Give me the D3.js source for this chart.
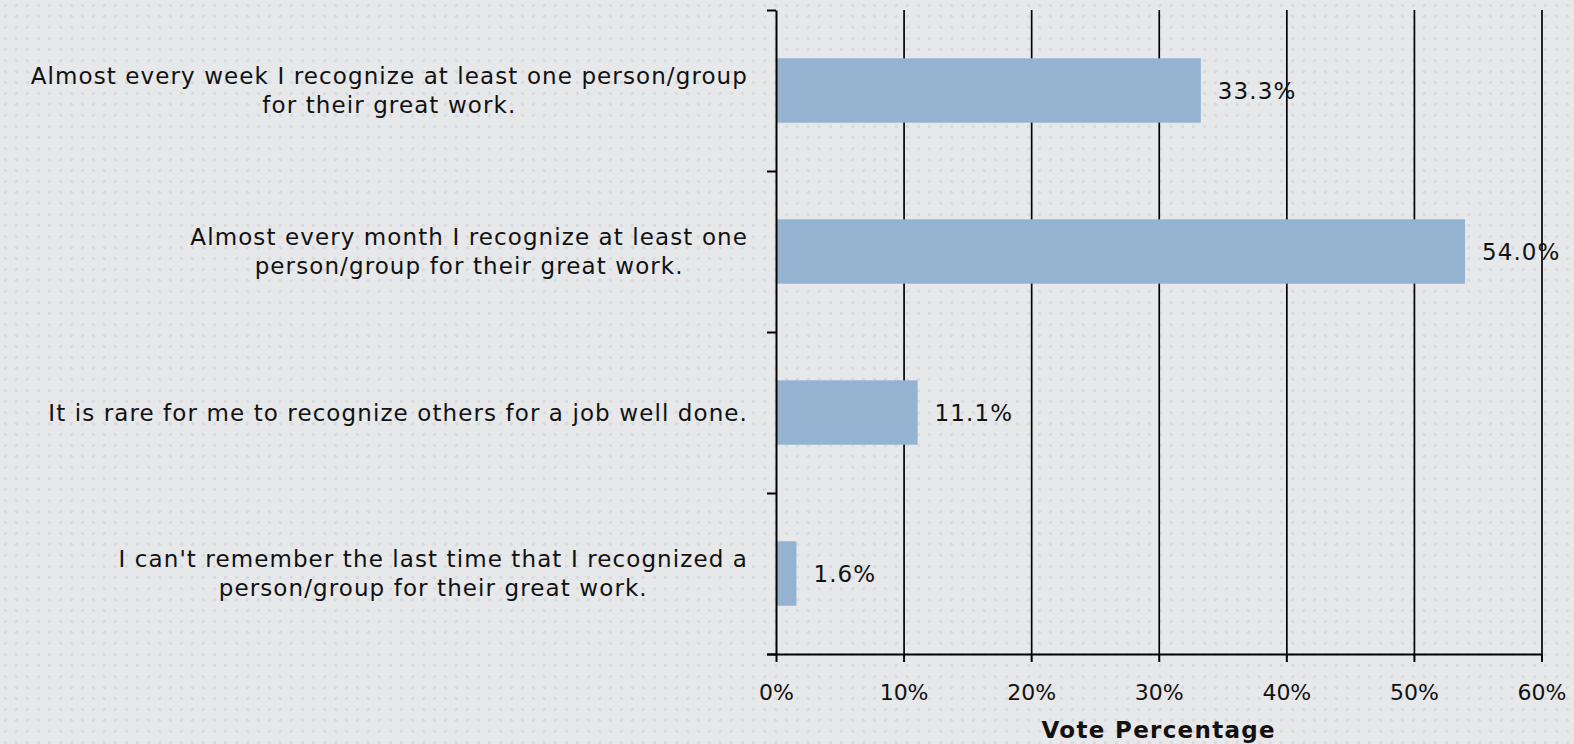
<!DOCTYPE html>
<html>
<head>
<meta charset="utf-8">
<script src="https://cdn.jsdelivr.net/npm/d3@7"></script>
<style>
  body { margin: 0; background: #e7e8ea; }
  svg { display: block; }
  .lbl { font-family: "Century Gothic", "URW Gothic", "DejaVu Sans", sans-serif; fill: #111; }
</style>
</head>
<body>
<div id="chart"></div>
<script>
"use strict";
// answers, one entry per line of text
const categories = [
    ["Almost every week I recognize at least one person/group", "for their great work."],
    ["Almost every month I recognize at least one", "person/group for their great work."],
    ["It is rare for me to recognize others for a job well done."],
    ["I can't remember the last time that I recognized a", "person/group for their great work."]
];
const votes = [33.3, 54.0, 11.1, 1.6];
const xTicks = [0, 10, 20, 30, 40, 50, 60];
const xTitle = "Vote Percentage";

const width = 1574, height = 744;
const plot = { left: 776, right: 1541.5, top: 10, bottom: 654 };
const fontSize = 23,
    spacing = "1.1px";

const svg = d3.select("#chart").append("svg")
    .attr("width", width)
    .attr("height", height);

// dotted backdrop
const pat = svg.append("defs").append("pattern")
    .attr("id", "dots")
    .attr("width", 11).attr("height", 11)
    .attr("patternUnits", "userSpaceOnUse");
pat.append("rect").attr("width", 11).attr("height", 11).attr("fill", "#e7e8ea");
pat.append("circle").attr("cx", 5.5).attr("cy", 5.5).attr("r", 1.7).attr("fill", "#d9dadd");
svg.append("rect").attr("width", width).attr("height", height).attr("fill", "url(#dots)");

var xScale = d3.scaleLinear().domain([0, 60]).range([plot.left, plot.right]);
var yScale = d3.scaleBand()
    .domain(d3.range(categories.length))
    .range([plot.top, plot.bottom])
    .paddingInner(0.6)
    .paddingOuter(0.3);
var yEdge = d3.scaleLinear().domain([0, categories.length]).range([plot.top, plot.bottom]);

// vertical gridlines
svg.append("g")
    .attr("transform", `translate(0,${plot.bottom})`)
    .call(d3.axisBottom(xScale).tickValues(xTicks.slice(1)).tickSize(-(plot.bottom - plot.top)).tickFormat(""))
    .call(g => g.select(".domain").remove())
    .call(g => g.selectAll("line").attr("stroke", "#000").attr("stroke-width", 1.7));

// bars
svg.append("g").selectAll("rect")
    .data(votes)
    .join("rect")
    .attr("x", xScale(0))
    .attr("y", (d, i) => yScale(i))
    .attr("width", d => xScale(d) - xScale(0))
    .attr("height", yScale.bandwidth())
    .attr("fill", "#93b3d1");

// value labels
svg.append("g").selectAll("text")
    .data(votes)
    .join("text")
    .attr("class", "lbl")
    .attr("x", d => xScale(d) + 17)
    .attr("y", (d, i) => yScale(i) + yScale.bandwidth() / 2)
    .attr("dy", "0.35em")
    .style("font-size", fontSize + "px")
    .style("letter-spacing", spacing)
    .text(d => d.toFixed(1) + "%");

// x axis
const xAxis = svg.append("g")
    .attr("transform", `translate(0,${plot.bottom})`)
    .call(d3.axisBottom(xScale).tickValues(xTicks).tickSize(8).tickSizeOuter(0).tickPadding(22).tickFormat(d => d + "%"));
xAxis.select(".domain").attr("stroke", "#000").attr("stroke-width", 2)
    .attr("d", `M${plot.left - 9},0.5H${plot.right}`);
xAxis.selectAll("line").attr("stroke", "#000").attr("stroke-width", 2);
xAxis.selectAll("text").attr("class", "lbl").attr("fill", null)
    .style("font-size", "22px");

// y axis, ticks on band edges
const yAxis = svg.append("g")
    .attr("transform", `translate(${plot.left},0)`)
    .call(d3.axisLeft(yEdge).tickValues(d3.range(categories.length + 1)).tickSize(9).tickSizeOuter(0).tickFormat(""));
yAxis.select(".domain").attr("stroke", "#000").attr("stroke-width", 2);
yAxis.selectAll("line").attr("stroke", "#000").attr("stroke-width", 2);

// category labels: lines centred in a block right-aligned at the axis
const catG = svg.append("g");
categories.forEach(function (lines, i) {
    const cy = yScale(i) + yScale.bandwidth() / 2;
    const lineH = 29;
    const g = catG.append("g");
    const texts = g.selectAll("text")
        .data(lines)
        .join("text")
        .attr("class", "lbl")
        .attr("text-anchor", "middle")
        .attr("y", (d, k) => cy + (k - (lines.length - 1) / 2) * lineH)
        .attr("dy", "0.35em")
        .style("font-size", fontSize + "px")
        .style("letter-spacing", spacing)
        .text(d => d);
    let maxW = 0;
    texts.each(function () { maxW = Math.max(maxW, this.getComputedTextLength()); });
    texts.attr("x", 748 - maxW / 2);
});

// axis title
svg.append("text")
    .attr("x", (plot.left + plot.right) / 2)
    .attr("y", 738)
    .attr("text-anchor", "middle")
    .style("font-family", "'DejaVu Sans', sans-serif")
    .style("font-weight", "bold")
    .style("font-size", "23px")
    .style("letter-spacing", "1.3px")
    .attr("fill", "#111")
    .text(xTitle);
</script>
</body>
</html>
